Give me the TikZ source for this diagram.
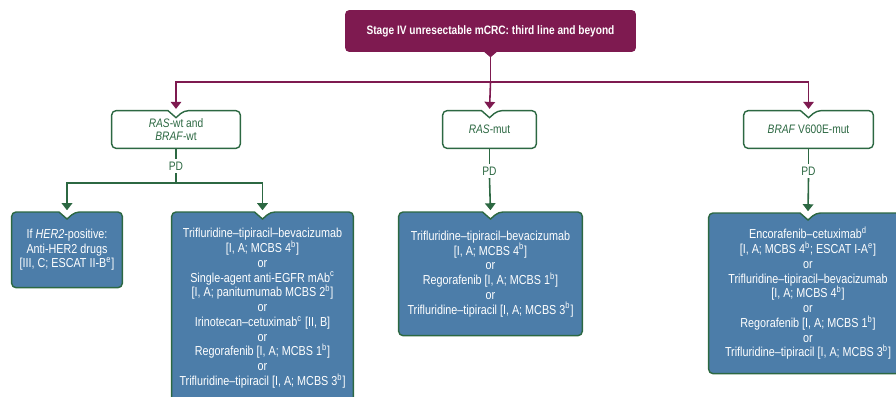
\documentclass[tikz,border=0pt]{standalone}
\usepackage{fontspec}
\setmainfont[FakeStretch=0.83]{Liberation Sans}
\usetikzlibrary{arrows.meta,positioning,calc,backgrounds}

\definecolor{esmomaroon}{RGB}{126,26,80}
\definecolor{esmogreen}{RGB}{44,104,66}
\definecolor{esmoblue}{RGB}{76,125,169}

% box outline with a notch where the arrow comes in
\newcommand{\notchoutline}[2]{%
  \draw[#2] ($(#1.north)+(-8,0)$) [rounded corners=2.5pt] -- (#1.north west) -- (#1.south west) -- (#1.south east) -- (#1.north east) -- ($(#1.north)+(8,0)$) [sharp corners] -- ($(#1.north)+(0,7)$) -- cycle;}

\begin{document}
\begin{tikzpicture}[
  x=0.02cm,y=-0.02cm,
  topbox/.style={fill=esmomaroon, rounded corners=2.5pt, text=white, font=\fontsize{6.95}{7.6}\selectfont\bfseries, minimum width=5.82cm, minimum height=0.84cm, inner sep=0pt},
  genebox/.style={align=center, text=esmogreen, font=\fontsize{7}{7.4}\selectfont, minimum height=0.74cm, inner sep=0pt},
  drugbox/.style={align=center, text=white, font=\fontsize{7.4}{8.4}\selectfont, anchor=north, inner sep=0pt},
  pd/.style={text=esmogreen, font=\fontsize{7}{7.4}\selectfont, inner sep=1.5pt},
  mline/.style={draw=esmomaroon, line width=0.9pt},
  gline/.style={draw=esmogreen, line width=0.9pt},
  marr/.style={mline, -{Triangle[length=4pt, width=6pt]}, shorten >=1pt},
  garr/.style={gline, -{Triangle[length=4pt, width=6pt]}, shorten >=1pt},
  whiteframe/.style={draw=esmogreen, line width=0.8pt, fill=white},
  blueframe/.style={draw=esmogreen, line width=0.8pt, fill=esmoblue}
]
\useasboundingbox (0,0) rectangle (896,396);
\clip (0,0) rectangle (896,396);

\node[topbox] (stage) at (490.5,31) {Stage IV unresectable mCRC: third line and beyond};
\fill[esmomaroon] ($(stage.south)+(-7,-1)$) -- ($(stage.south)+(7,-1)$) -- ($(stage.south)+(0,5)$) -- cycle;

\node[genebox, minimum width=2.56cm] (rwt) at (176,129.5) {\textit{RAS}-wt and\\\textit{BRAF}-wt};
\node[genebox, minimum width=1.86cm] (rmut) at (489.5,129.5) {\textit{RAS}-mut};
\node[genebox, minimum width=2.58cm] (braf) at (808.5,129.5) {\textit{BRAF} V600E-mut};

\node[pd] (pdrwt) at (176,166) {PD};
\node[pd] (pdrmut) at (489.5,171) {PD};
\node[pd] (pdbraf) at (808.5,171) {PD};

\node[drugbox, minimum width=2.2cm, minimum height=1.5cm] (her2) at (67,212) {If \textit{HER2}-positive:\\Anti-HER2 drugs\\{[III, C; ESCAT II-B\textsuperscript{e}]}};
\node[drugbox, minimum width=3.62cm, minimum height=3.84cm] (wtdrugs) at (262.5,212) {Trifluridine–tipiracil–bevacizumab\\{[I, A; MCBS 4\textsuperscript{b}]}\\or\\Single-agent anti-EGFR mAb\textsuperscript{c}\\{[I, A; panitumumab MCBS 2\textsuperscript{b}]}\\or\\Irinotecan–cetuximab\textsuperscript{c} [II, B]\\or\\Regorafenib [I, A; MCBS 1\textsuperscript{b}]\\or\\Trifluridine–tipiracil [I, A; MCBS 3\textsuperscript{b}]};
\node[drugbox, minimum width=3.66cm, minimum height=2.46cm] (mutdrugs) at (490.5,212) {Trifluridine–tipiracil–bevacizumab\\{[I, A; MCBS 4\textsuperscript{b}]}\\or\\Regorafenib [I, A; MCBS 1\textsuperscript{b}]\\or\\Trifluridine–tipiracil [I, A; MCBS 3\textsuperscript{b}]};
\node[drugbox, minimum width=3.96cm, minimum height=3.2cm] (brafdrugs) at (808,213) {Encorafenib–cetuximab\textsuperscript{d}\\{[I, A; MCBS 4\textsuperscript{b}; ESCAT I-A\textsuperscript{e}]}\\or\\Trifluridine–tipiracil–bevacizumab\\{[I, A; MCBS 4\textsuperscript{b}]}\\or\\Regorafenib [I, A; MCBS 1\textsuperscript{b}]\\or\\Trifluridine–tipiracil [I, A; MCBS 3\textsuperscript{b}]};

\begin{scope}[on background layer]
\notchoutline{rwt}{whiteframe}
\notchoutline{rmut}{whiteframe}
\notchoutline{braf}{whiteframe}
\notchoutline{her2}{blueframe}
\notchoutline{wtdrugs}{blueframe}
\notchoutline{mutdrugs}{blueframe}
\notchoutline{brafdrugs}{blueframe}
\end{scope}

\coordinate (split) at (490.5,82);
\coordinate (wtsplit) at (176,183);
\draw[mline] ($(stage.south)+(0,5)$) -- (split);
\draw[marr] (split) -| (rwt.north);
\draw[marr] (split) -- (rmut.north);
\draw[marr] (split) -| (braf.north);

\draw[gline] (rwt.south) -- (pdrwt.north);
\draw[gline] (pdrwt.south) -- (wtsplit);
\draw[garr] (wtsplit) -| (her2.north);
\draw[garr] (wtsplit) -| (wtdrugs.north);
\draw[gline] (rmut.south) -- (pdrmut.north);
\draw[garr] (pdrmut.south) -- (mutdrugs.north);
\draw[gline] (braf.south) -- (pdbraf.north);
\draw[garr] (pdbraf.south) -- (brafdrugs.north);
\end{tikzpicture}
\end{document}
